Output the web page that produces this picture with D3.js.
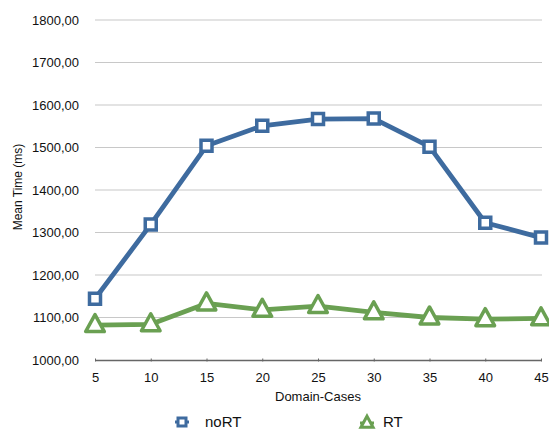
<!DOCTYPE html>
<html><head><meta charset="utf-8">
<script src="https://cdn.jsdelivr.net/npm/d3@7"></script>
<style>body{margin:0;background:#fff}svg{display:block}text{font-family:"Liberation Sans",Arial,sans-serif;fill:#111}</style>
</head><body><svg id="c" width="549" height="429"></svg>
<script>
const categories = [5,10,15,20,25,30,35,40,45];
const noRT = [1144,1319,1504,1551,1567,1568,1502,1323,1288];
const RT = [1082,1084,1133,1118,1127,1112,1100,1096,1098];
const yTicks = [1000,1100,1200,1300,1400,1500,1600,1700,1800];
const seriesNames = ["noRT","RT"];
const colors = ["#3e6b9f","#6aa052"];

const svg = d3.select("#c");
const x = d3.scaleLinear().domain([5,45]).range([95,541]);
const y = d3.scaleLinear().domain([1000,1800]).range([360,20]);
const fmt = v => d3.format(".2f")(v).replace(".",",");

// grid
svg.append("g").selectAll("line").data(yTicks.slice(1)).join("line")
  .attr("x1",95).attr("x2",542).attr("y1",d=>y(d)).attr("y2",d=>y(d))
  .attr("stroke","#c8c8c8").attr("stroke-width",1.2);

// y labels
svg.append("g").selectAll("text").data(yTicks).join("text")
  .attr("x",79).attr("y",d=>y(d)).attr("dy","0.35em").attr("text-anchor","end")
  .attr("font-size",13).text(fmt);

// x axis
const xa = svg.append("g").attr("transform","translate(0,360)")
  .call(d3.axisBottom(x).tickValues(categories).tickSize(3).tickPadding(10).tickSizeOuter(0));
xa.select(".domain").attr("stroke","#666").attr("stroke-width",1.5);
xa.selectAll(".tick line").attr("stroke","#666").attr("transform","translate(0,-1.5)");
xa.selectAll("text").attr("font-size",13).attr("fill","#111").attr("font-family","Liberation Sans, Arial, sans-serif");

svg.append("text").attr("x",318).attr("y",401).attr("text-anchor","middle").attr("font-size",13).text("Domain-Cases");
svg.append("text").attr("transform","translate(22,187) rotate(-90)").attr("text-anchor","middle").attr("font-size",12).text("Mean Time (ms)");

const line = d3.line().x((d,i)=>x(categories[i])).y(d=>y(d));
const tri = s => `M0,${-s*0.62}L${s*0.55},${s*0.38}L${-s*0.55},${s*0.38}Z`;

[noRT,RT].forEach((data,k)=>{
  const g = svg.append("g");
  g.append("path").datum(data).attr("d",line).attr("fill","none").attr("stroke",colors[k]).attr("stroke-width",4.8).attr("stroke-linejoin","round");
  const m = g.selectAll("path.m").data(data).join("path").attr("class","m")
    .attr("transform",(d,i)=>`translate(${x(categories[i])},${y(d)})`)
    .attr("fill","#fff").attr("stroke",colors[k]).attr("stroke-width",3.5);
  if(k===0) m.attr("d","M-5.5,-5.5H5.5V5.5H-5.5Z");
  else m.attr("d",tri(17)).attr("stroke-linejoin","round");
});

// legend
const lg = svg.append("g");
lg.append("line").attr("x1",175).attr("x2",189).attr("y1",422).attr("y2",422).attr("stroke",colors[0]).attr("stroke-width",3);
lg.append("path").attr("d","M-4,-4H4V4H-4Z").attr("transform","translate(182,422)").attr("fill","#fff").attr("stroke",colors[0]).attr("stroke-width",3);
lg.append("line").attr("x1",360).attr("x2",374).attr("y1",423).attr("y2",423).attr("stroke",colors[1]).attr("stroke-width",3);
lg.append("path").attr("d",tri(11)).attr("transform","translate(367,423)").attr("fill","#fff").attr("stroke",colors[1]).attr("stroke-width",3);
lg.append("text").attr("x",205).attr("y",427).attr("font-size",15).text(seriesNames[0]);
lg.append("text").attr("x",383).attr("y",427).attr("font-size",15).text(seriesNames[1]);
</script></body></html>
